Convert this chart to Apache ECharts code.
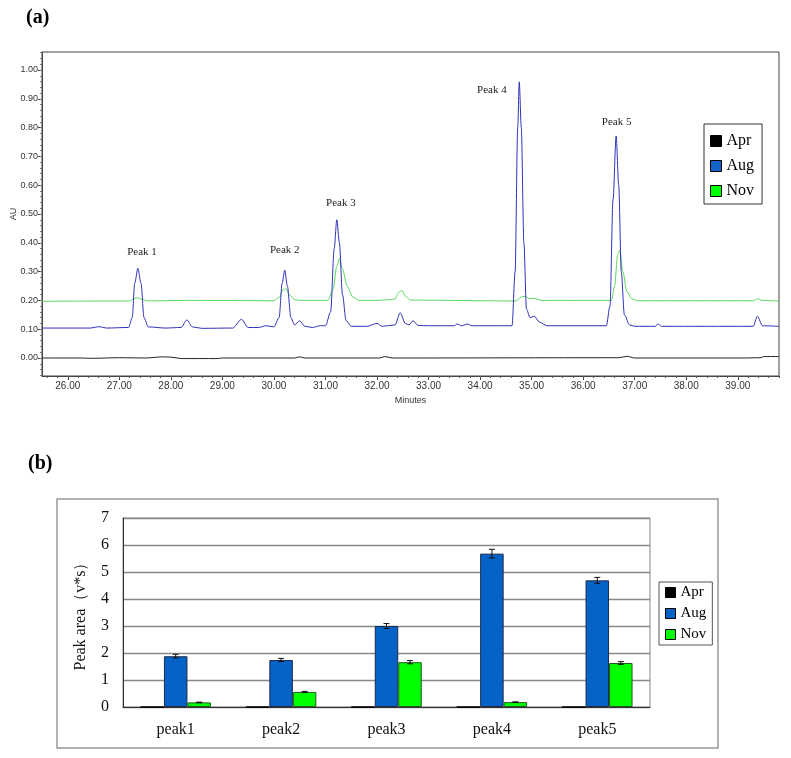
<!DOCTYPE html>
<html>
<head>
    <meta charset="utf-8">
    <title>Peaks</title>
    <script src="https://cdn.jsdelivr.net/npm/echarts@6/dist/echarts.min.js"></script>
    <style>
        body { margin: 0; background: #fff; }
        #main { width: 791px; height: 758px; }
    </style>
</head>
<body>
    <div id="main"></div>

    <script>
        // (a) chromatogram traces, [minutes, AU]
        var aprTrace = [[25.5, 0.0], [26.2, 0.0], [26.5, -0.001], [27.0, 0.001], [27.5, 0.0], [27.85, 0.004], [28.0, 0.003],
            [28.2, -0.002], [28.9, -0.002], [29.0, 0.0], [30.4, 0.0], [30.5, 0.004], [30.6, 0.0], [32.05, 0.0], [32.15, 0.005],
            [32.3, 0.0], [36.7, 0.001], [36.85, 0.006], [37.0, 0.0], [39.1, 0.0], [39.45, 0.001], [39.5, 0.005], [39.8, 0.005]];

        var augTrace = [[25.5, 0.104], [26.45, 0.104], [26.6, 0.109], [26.75, 0.104], [27.18, 0.106], [27.25, 0.14], [27.3, 0.26],
            [27.36, 0.311], [27.42, 0.26], [27.48, 0.14], [27.56, 0.108], [27.9, 0.104], [28.2, 0.106], [28.31, 0.132], [28.42, 0.108],
            [28.6, 0.103], [29.2, 0.104], [29.37, 0.134], [29.5, 0.106], [29.7, 0.106], [29.85, 0.112], [30.0, 0.108], [30.1, 0.14],
            [30.16, 0.26], [30.21, 0.305], [30.26, 0.25], [30.33, 0.14], [30.4, 0.115], [30.5, 0.129], [30.6, 0.11], [30.75, 0.106],
            [30.9, 0.112], [31.0, 0.112], [31.1, 0.16], [31.17, 0.38], [31.22, 0.48], [31.27, 0.40], [31.33, 0.22], [31.4, 0.13],
            [31.5, 0.11], [31.8, 0.11], [32.0, 0.12], [32.1, 0.11], [32.35, 0.115], [32.45, 0.157], [32.55, 0.12], [32.62, 0.115],
            [32.7, 0.129], [32.8, 0.113], [33.0, 0.112], [33.5, 0.112], [33.55, 0.118], [33.65, 0.112], [33.75, 0.118], [33.85, 0.112],
            [34.62, 0.112], [34.68, 0.3], [34.73, 0.8], [34.76, 0.959], [34.8, 0.8], [34.85, 0.4], [34.9, 0.17], [34.97, 0.14],
            [35.05, 0.145], [35.15, 0.125], [35.3, 0.112], [36.45, 0.112], [36.52, 0.18], [36.58, 0.55], [36.64, 0.771], [36.69, 0.6],
            [36.74, 0.3], [36.8, 0.15], [36.9, 0.115], [37.0, 0.11], [37.4, 0.11], [37.45, 0.118], [37.52, 0.11], [39.3, 0.11],
            [39.38, 0.145], [39.48, 0.112], [39.8, 0.11]];

        var novTrace = [[25.5, 0.197], [27.2, 0.198], [27.3, 0.207], [27.36, 0.209], [27.45, 0.203], [27.55, 0.198], [28.3, 0.2],
            [30.0, 0.199], [30.1, 0.21], [30.18, 0.238], [30.23, 0.24], [30.3, 0.22], [30.4, 0.203], [30.5, 0.2], [31.05, 0.2],
            [31.15, 0.24], [31.22, 0.32], [31.27, 0.345], [31.33, 0.31], [31.42, 0.25], [31.53, 0.212], [31.65, 0.2], [32.0, 0.2],
            [32.2, 0.202], [32.35, 0.205], [32.42, 0.228], [32.48, 0.235], [32.55, 0.215], [32.65, 0.201], [34.7, 0.198], [34.8, 0.212],
            [34.86, 0.214], [34.95, 0.207], [35.05, 0.207], [35.2, 0.2], [36.55, 0.2], [36.61, 0.25], [36.67, 0.36], [36.71, 0.374],
            [36.77, 0.3], [36.85, 0.23], [36.95, 0.205], [37.05, 0.199], [39.3, 0.199], [39.38, 0.206], [39.48, 0.2], [39.8, 0.197]];

        // peak annotations, [minutes, AU, text]
        var peakNotes = [[27.44, 0.367, 'Peak 1'], [30.21, 0.374, 'Peak 2'], [31.3, 0.538, 'Peak 3'],
            [34.23, 0.93, 'Peak 4'], [36.65, 0.82, 'Peak 5']];

        var minuteTicks = [26, 27, 28, 29, 30, 31, 32, 33, 34, 35, 36, 37, 38, 39];
        var auTicks = [0, 0.1, 0.2, 0.3, 0.4, 0.5, 0.6, 0.7, 0.8, 0.9, 1.0];

        // (b) peak areas
        var peakNames = ['peak1', 'peak2', 'peak3', 'peak4', 'peak5'];
        var aprArea = [0, 0, 0, 0, 0];
        var augArea = [1.88, 1.74, 3.0, 5.68, 4.69];
        var augErr = [0.07, 0.06, 0.09, 0.16, 0.11];
        var novArea = [0.17, 0.56, 1.66, 0.18, 1.63];
        var novErr = [0.01, 0.02, 0.06, 0.01, 0.05];

        var serif = '"Liberation Serif", "Times New Roman", serif';
        var sans = '"Liberation Sans", Arial, sans-serif';
        var barW = 23.5;

        function minorTicks(from, to, step) {
            var out = [];
            for (var v = from; v <= to + 1e-9; v += step) out.push(+v.toFixed(3));
            return out;
        }

        function errData(vals, errs) {
            return vals.map(function(v, i) { return [i, v - errs[i], v + errs[i]]; });
        }

        function errRender(shift) {
            return function(params, api) {
                var lo = api.coord([api.value(0), api.value(1)]);
                var hi = api.coord([api.value(0), api.value(2)]);
                var x = lo[0] + shift * barW;
                var st = { stroke: '#111', lineWidth: 1 };
                return {
                    type: 'group',
                    children: [
                        { type: 'line', shape: { x1: x, y1: lo[1], x2: x, y2: hi[1] }, style: st },
                        { type: 'line', shape: { x1: x - 3, y1: lo[1], x2: x + 3, y2: lo[1] }, style: st },
                        { type: 'line', shape: { x1: x - 3, y1: hi[1], x2: x + 3, y2: hi[1] }, style: st }
                    ]
                };
            };
        }

        var legendItems = function(aug) {
            return [
                { name: 'Apr', icon: 'rect', itemStyle: { color: '#000', borderColor: '#000', borderWidth: 1 } },
                { name: 'Aug', icon: 'rect', itemStyle: { color: aug, borderColor: '#000', borderWidth: 1 } },
                { name: 'Nov', icon: 'rect', itemStyle: { color: '#00ff00', borderColor: '#000', borderWidth: 1 } }
            ];
        };

        var chart = echarts.init(document.getElementById('main'));
        chart.setOption({
            animation: false,
            graphic: [
                { type: 'text', left: 26, top: 8, style: { text: '(a)', font: 'bold 20px ' + serif, fill: '#000' } },
                { type: 'text', left: 28, top: 454, style: { text: '(b)', font: 'bold 20px ' + serif, fill: '#000' } },
                { type: 'rect', shape: { x: 57, y: 499, width: 661, height: 249 }, style: { fill: 'none', stroke: '#999', lineWidth: 1.5 } }
            ],
            legend: [{
                orient: 'vertical', left: 704, top: 124,
                padding: [9, 8, 5, 6], itemGap: 9, itemWidth: 11, itemHeight: 11,
                borderColor: '#333', borderWidth: 1,
                textStyle: { fontFamily: serif, fontSize: 16, color: '#000' },
                data: legendItems('#1565c8')
            }, {
                orient: 'vertical', left: 659, top: 582,
                padding: [3, 6, 3, 6], itemGap: 6, itemWidth: 10, itemHeight: 10,
                borderColor: '#555', borderWidth: 1,
                textStyle: { fontFamily: serif, fontSize: 15, color: '#000' },
                data: legendItems('#0563c8')
            }],
            grid: [
                { left: 42, right: 12, top: 52, bottom: 382, show: true, borderColor: '#444', borderWidth: 1, outerBoundsMode: 'none' },
                { left: 123, right: 141, top: 518, bottom: 51, show: true, borderColor: '#888', borderWidth: 1, outerBoundsMode: 'none' }
            ],
            xAxis: [{
                type: 'value', gridIndex: 0, min: 25.5, max: 39.8, position: 'bottom',
                name: 'Minutes', nameLocation: 'middle', nameGap: 20,
                nameTextStyle: { fontFamily: sans, fontSize: 9, color: '#333' },
                axisLine: { onZero: false, lineStyle: { color: '#444' } },
                axisTick: { inside: false, length: 4, customValues: minuteTicks, lineStyle: { color: '#444' } },
                axisLabel: { customValues: minuteTicks, margin: 5, fontFamily: sans, fontSize: 10, color: '#333',
                    formatter: function(v) { return v.toFixed(2); } },
                splitLine: { show: false }
            }, {
                type: 'value', gridIndex: 0, min: 25.5, max: 39.8, position: 'bottom',
                axisLine: { show: false, onZero: false },
                axisTick: { inside: false, length: 2, customValues: minorTicks(25.6, 39.8, 0.2), lineStyle: { color: '#555' } },
                axisLabel: { show: false },
                splitLine: { show: false }
            }, {
                type: 'category', gridIndex: 1, data: peakNames,
                axisLine: { lineStyle: { color: '#333' } },
                axisTick: { inside: true, length: 5, lineStyle: { color: '#666' } },
                axisLabel: { margin: 15, fontFamily: serif, fontSize: 16, color: '#111' }
            }],
            yAxis: [{
                type: 'value', gridIndex: 0, min: -0.0625, max: 1.0625, position: 'left',
                name: 'AU', nameLocation: 'middle', nameGap: 24, nameMoveOverlap: false,
                nameTextStyle: { fontFamily: sans, fontSize: 9, color: '#333' },
                axisLine: { show: true, onZero: false, lineStyle: { color: '#444' } },
                axisTick: { show: true, inside: false, length: 4, customValues: auTicks, lineStyle: { color: '#444' } },
                axisLabel: { customValues: auTicks, margin: 4, fontFamily: sans, fontSize: 9, color: '#333',
                    formatter: function(v) { return v.toFixed(2); } },
                splitLine: { show: false }
            }, {
                type: 'value', gridIndex: 0, min: -0.0625, max: 1.0625, position: 'left',
                axisLine: { show: false, onZero: false },
                axisTick: { show: true, inside: false, length: 2, customValues: minorTicks(-0.06, 1.06, 0.02), lineStyle: { color: '#777' } },
                axisLabel: { show: false },
                splitLine: { show: false }
            }, {
                type: 'value', gridIndex: 1, min: 0, max: 7, interval: 1,
                name: 'Peak area（v*s）', nameLocation: 'middle', nameGap: 34,
                nameTextStyle: { fontFamily: serif, fontSize: 16, color: '#111' },
                axisLine: { show: true, lineStyle: { color: '#333' } },
                axisTick: { show: false },
                axisLabel: { margin: 14, fontFamily: serif, fontSize: 16, color: '#111' },
                splitLine: { lineStyle: { color: '#888', width: 1.3 } }
            }],
            series: [{
                name: 'Apr', type: 'line', xAxisIndex: 0, yAxisIndex: 0, data: aprTrace,
                showSymbol: false, smooth: 0.3, smoothMonotone: 'x',
                lineStyle: { color: '#222', width: 1 }, itemStyle: { color: '#000' }
            }, {
                name: 'Nov', type: 'line', xAxisIndex: 0, yAxisIndex: 0, data: novTrace,
                showSymbol: false, smooth: 0.3, smoothMonotone: 'x',
                lineStyle: { color: '#5cd85c', width: 1 }, itemStyle: { color: '#00ff00' }
            }, {
                name: 'Aug', type: 'line', xAxisIndex: 0, yAxisIndex: 0, data: augTrace,
                showSymbol: false, smooth: 0.3, smoothMonotone: 'x',
                lineStyle: { color: '#3030b8', width: 1 }, itemStyle: { color: '#1565c8' },
                markPoint: {
                    symbol: 'circle', symbolSize: 0,
                    label: { show: true, position: 'inside', formatter: '{b}', fontFamily: serif, fontSize: 11, color: '#222' },
                    data: peakNotes.map(function(p) { return { name: p[2], coord: [p[0], p[1]] }; })
                }
            }, {
                name: 'Apr', type: 'bar', xAxisIndex: 2, yAxisIndex: 2, data: aprArea,
                barWidth: barW, barGap: '0%', itemStyle: { color: '#000', borderColor: '#000', borderWidth: 1 }
            }, {
                name: 'Aug', type: 'bar', xAxisIndex: 2, yAxisIndex: 2, data: augArea,
                barWidth: barW, barGap: '0%', itemStyle: { color: '#0563c8', borderColor: '#1b2a4a', borderWidth: 1 }
            }, {
                name: 'Nov', type: 'bar', xAxisIndex: 2, yAxisIndex: 2, data: novArea,
                barWidth: barW, barGap: '0%', itemStyle: { color: '#00ff00', borderColor: '#1e5a1e', borderWidth: 1 }
            }, {
                type: 'custom', xAxisIndex: 2, yAxisIndex: 2, z: 10,
                renderItem: errRender(0), encode: { x: 0, y: [1, 2] }, data: errData(augArea, augErr)
            }, {
                type: 'custom', xAxisIndex: 2, yAxisIndex: 2, z: 10,
                renderItem: errRender(1), encode: { x: 0, y: [1, 2] }, data: errData(novArea, novErr)
            }]
        });
    </script>
</body>
</html>
